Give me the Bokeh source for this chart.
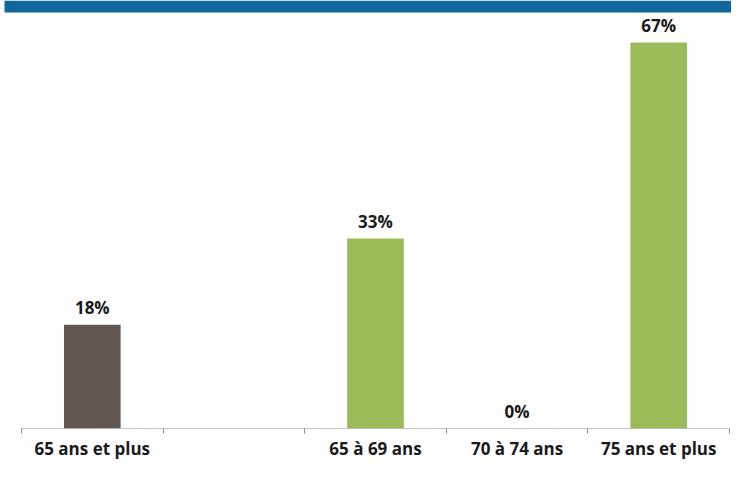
from bokeh.plotting import figure
from bokeh.models import FixedTicker, BoxAnnotation, ColumnDataSource, Range1d
from bokeh.core.properties import value
from bokeh.embed import file_html
from bokeh.resources import INLINE

categories = ["65 ans et plus", "", "65 à 69 ans", "70 à 74 ans", "75 ans et plus"]
values = [18, None, 33, 0, 67]
colors = ["#635850", None, "#9bbb59", "#9bbb59", "#9bbb59"]

xs, ys, cs, labels = [], [], [], []
for i, (v, c) in enumerate(zip(values, colors)):
    if v is None:
        continue
    xs.append(i + 0.5)
    ys.append(v)
    cs.append(c)
    labels.append(f"{v}%")

src = ColumnDataSource(dict(x=xs, top=ys, color=cs, label=labels))

n = len(categories)
W, H = 731, 464
bottom_border = 36
frame_bottom = H - bottom_border       # px from top of canvas
top_bar_px = 42                        # where the tallest bar should end
px_per_unit_y = (frame_bottom - top_bar_px) / max(v for v in values if v is not None)
y_end = frame_bottom / px_per_unit_y
left_px, right_px = 21, 729
px_per_cat = (right_px - left_px) / n
x_start = -left_px / px_per_cat
x_end = n + (W - right_px) / px_per_cat

p = figure(width=W, height=H, output_backend="svg", toolbar_location=None,
           x_range=Range1d(x_start, x_end), y_range=Range1d(0, y_end),
           min_border_left=0, min_border_right=0, min_border_top=0,
           min_border_bottom=bottom_border)
p.outline_line_color = None
p.background_fill_color = "white"
p.border_fill_color = "white"
p.xgrid.visible = False
p.ygrid.visible = False
p.yaxis.visible = False

# blue band at the top
band = BoxAnnotation(bottom=y_end - 12 / px_per_unit_y, top=None,
                     left=x_start + 4 / px_per_cat, right=None,
                     fill_color="#12669e", fill_alpha=1, line_color=None)
p.add_layout(band)

p.vbar(x="x", top="top", width=0.4, fill_color="color", line_color=None, source=src)

# axis baseline across the categories only
p.segment(x0=[0], y0=[0], x1=[n], y1=[0], line_color="#8c8c8c", line_width=1)

p.text(x="x", y="top", text="label", source=src, text_align="center",
       text_baseline="alphabetic", y_offset=-17, text_font=value("Open Sans"),
       text_font_style="bold", text_font_size="17px", text_color="#1a1a1a")

ax = p.xaxis[0]
ax.ticker = FixedTicker(ticks=[i + 0.5 for i in range(n)],
                        minor_ticks=list(range(n + 1)))
ax.major_label_overrides = {i + 0.5: c for i, c in enumerate(categories)}
ax.major_tick_out = 0
ax.major_tick_in = 0
ax.minor_tick_out = 5
ax.minor_tick_in = 0
ax.minor_tick_line_color = "#8c8c8c"
ax.axis_line_color = None
ax.major_label_standoff = 3
ax.major_label_text_font = "Open Sans"
ax.major_label_text_font_style = "bold"
ax.major_label_text_font_size = "17px"
ax.major_label_text_color = "#1a1a1a"

open("out.html", "w").write(file_html(p, INLINE))
